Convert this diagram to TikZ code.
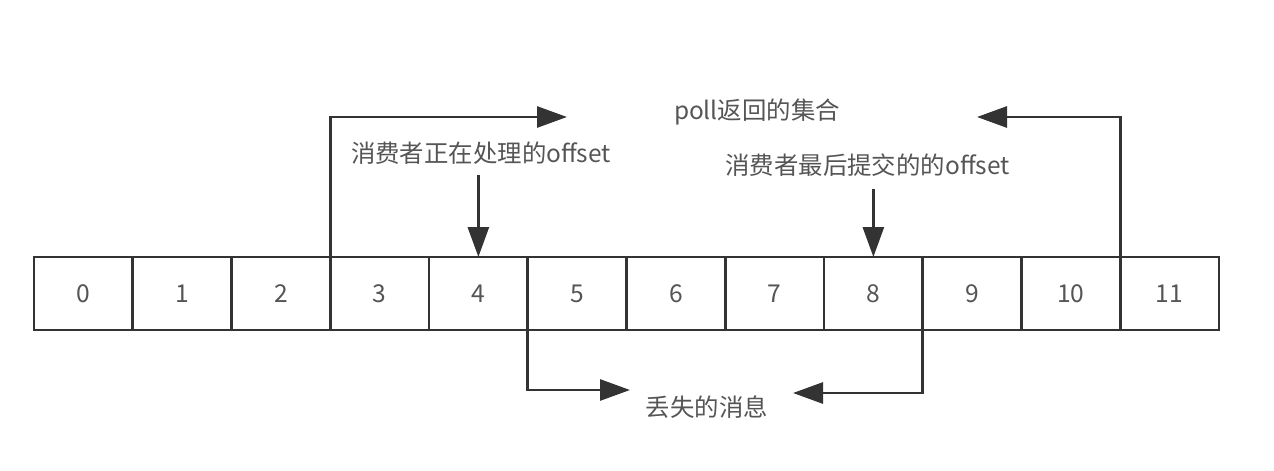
\documentclass[tikz,border=0pt]{standalone}
\usepackage{fontspec}
\setmainfont{Noto Sans CJK SC}
\usepackage{tikz}
\usetikzlibrary{arrows.meta, chains, positioning}
\definecolor{linegray}{HTML}{333333}
\definecolor{textgray}{HTML}{555555}
\tikzset{
    cell/.style  = {draw=linegray, rectangle, line width=1.5pt, outer sep=0pt, minimum width=1.975cm, minimum height=1.46cm, text centered, font=\fontsize{14}{16}\selectfont, text=textgray},
    note/.style  = {font=\fontsize{13.9}{16}\selectfont, text=textgray, inner sep=2pt},
    arr/.style   = {draw=linegray, line width=1.6pt, -{Triangle[length=0.6cm, width=0.42cm]}},
}
\begin{document}
\begin{tikzpicture}[start chain=1 going right, node distance=0mm]
  \useasboundingbox (0,0) rectangle (25.48,9.4);
  \node [name=c0, on chain=1, cell, anchor=west] at (0.68,3.53) {0};
  \node [name=c1, on chain=1, cell] {1};
  \node [name=c2, on chain=1, cell] {2};
  \node [name=c3, on chain=1, cell] {3};
  \node [name=c4, on chain=1, cell] {4};
  \node [name=c5, on chain=1, cell] {5};
  \node [name=c6, on chain=1, cell] {6};
  \node [name=c7, on chain=1, cell] {7};
  \node [name=c8, on chain=1, cell] {8};
  \node [name=c9, on chain=1, cell] {9};
  \node [name=c10, on chain=1, cell] {10};
  \node [name=c11, on chain=1, cell] {11};
  % labels
  \node [name=poll, note] at (15.14,7.16) {poll返回的集合};
  \node [name=proc, note] at (9.62,6.34) {消费者正在处理的offset};
  \node [name=commit, note] at (17.35,6.1) {消费者最后提交的的offset};
  \node [name=lost, note] at (14.14,1.26) {丢失的消息};
  \coordinate (pollL) at (11.34,7.06);
  \coordinate (pollR) at (19.54,7.06);
  \coordinate (lostL) at (12.6,1.6);
  \coordinate (lostR) at (15.86,1.54);
  % arrows
  \draw [arr] (c3.north west) |- (pollL);
  \draw [arr] (c11.north west) |- (pollR);
  \draw [arr, shorten <=4pt] (proc.south -| c4.north) -- (c4.north);
  \draw [arr, shorten <=5pt] (commit.south -| c8.north) -- (c8.north);
  \draw [arr] (c5.south west) |- (lostL);
  \draw [arr] (c9.south west) |- (lostR);
\end{tikzpicture}
\end{document}
